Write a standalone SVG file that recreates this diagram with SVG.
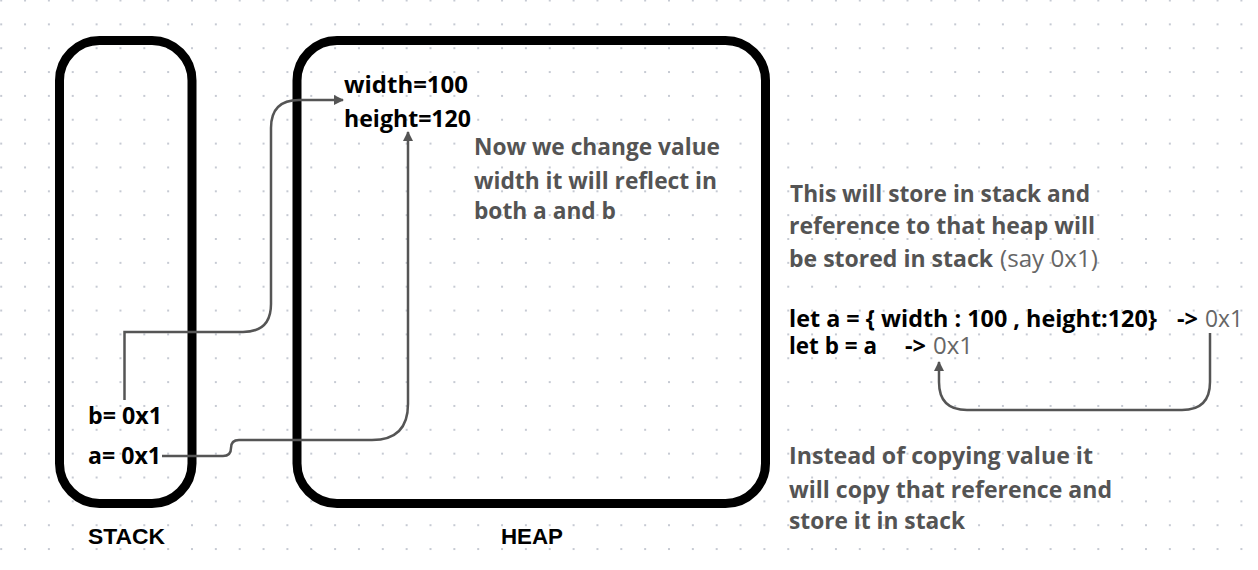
<svg xmlns="http://www.w3.org/2000/svg" width="1258" height="570" viewBox="0 0 1258 570">
<style>
.box{fill:none;stroke:#000;stroke-width:9}
.conn{fill:none;stroke:#555;stroke-width:2.5}
.t{font-family:"Open Sans",Lato,sans-serif;font-weight:700;font-size:23px}
.blk{fill:#000}
.gry{fill:#545454}
.reg{font-weight:400;fill:#666}
.lbl{font-family:"Liberation Sans",Arial,sans-serif;font-weight:700;font-size:22.5px;fill:#000}
</style>
<defs>
<pattern id="dots" patternUnits="userSpaceOnUse" x="-10.725" y="-11.425" width="23.85" height="23.85">
<rect x="10.925" y="10.925" width="2" height="2" fill="#c6cad3"/>
</pattern>
<marker id="arr" viewBox="0 0 10 10" refX="9" refY="5" markerWidth="4" markerHeight="4" orient="auto" markerUnits="strokeWidth">
<path d="M0 0 L10 5 L0 10 Z" fill="#555"/>
</marker>
</defs>
<rect width="1258" height="570" fill="#fff"/>
<rect width="1258" height="570" fill="url(#dots)"/>

<g id="stack">
<rect class="box" x="59.5" y="40.5" width="132.5" height="463" rx="40"/>
<text class="lbl" x="88" y="544" textLength="77" lengthAdjust="spacingAndGlyphs">STACK</text>
<text class="t blk" x="88" y="424" textLength="74" lengthAdjust="spacingAndGlyphs">b= 0x1</text>
<text class="t blk" x="88" y="464" textLength="73" lengthAdjust="spacingAndGlyphs">a= 0x1</text>
</g>

<g id="heap">
<rect class="box" x="297" y="40.5" width="468.5" height="463" rx="40"/>
<text class="lbl" x="501" y="544" textLength="62" lengthAdjust="spacingAndGlyphs">HEAP</text>
<text class="t blk" x="344" y="92.5" textLength="124" lengthAdjust="spacingAndGlyphs">width=100</text>
<text class="t blk" x="344" y="126.5" textLength="127" lengthAdjust="spacingAndGlyphs">height=120</text>
</g>

<g id="note-change">
<text class="t gry" x="474" y="155" textLength="246" lengthAdjust="spacingAndGlyphs">Now we change value</text>
<text class="t gry" x="474" y="188.5" textLength="243" lengthAdjust="spacingAndGlyphs">width it will reflect in</text>
<text class="t gry" x="474" y="219" textLength="142" lengthAdjust="spacingAndGlyphs">both a and b</text>
</g>

<g id="note-store">
<text class="t gry" x="790" y="201.5" textLength="300" lengthAdjust="spacingAndGlyphs">This will store in stack and</text>
<text class="t gry" x="789" y="234" textLength="306" lengthAdjust="spacingAndGlyphs">reference to that heap will</text>
<text class="t gry" x="789" y="266.5" textLength="204" lengthAdjust="spacingAndGlyphs">be stored in stack</text>
<text class="t reg" x="1000" y="266.5" textLength="98" lengthAdjust="spacingAndGlyphs">(say 0x1)</text>
</g>

<g id="code">
<text class="t blk" x="789" y="326.5" textLength="368" lengthAdjust="spacingAndGlyphs">let a = { width : 100 , height:120}</text>
<text class="t blk" x="1177" y="326.5" textLength="21" lengthAdjust="spacingAndGlyphs">-&gt;</text>
<text class="t reg" x="1205" y="326.5" textLength="38" lengthAdjust="spacingAndGlyphs">0x1</text>
<text class="t blk" x="789" y="354" textLength="88" lengthAdjust="spacingAndGlyphs">let b = a</text>
<text class="t blk" x="905" y="354" textLength="21" lengthAdjust="spacingAndGlyphs">-&gt;</text>
<text class="t reg" x="933" y="354" textLength="40" lengthAdjust="spacingAndGlyphs">0x1</text>
</g>

<g id="note-copy">
<text class="t gry" x="789" y="464" textLength="304" lengthAdjust="spacingAndGlyphs">Instead of copying value it</text>
<text class="t gry" x="789" y="497.5" textLength="323" lengthAdjust="spacingAndGlyphs">will copy that reference and</text>
<text class="t gry" x="789" y="529" textLength="176" lengthAdjust="spacingAndGlyphs">store it in stack</text>
</g>

<g id="connectors">
<path class="conn" d="M124.5 400 V332 H243 Q271 332 271 304 V128 Q271 100 299 100 H343" marker-end="url(#arr)"/>
<path class="conn" d="M162 456 H223 Q231 456 231 448 Q231 440 239 440 H372 Q408 440 408 404 V132" marker-end="url(#arr)"/>
<path class="conn" d="M1210 333 V382 Q1210 410 1182 410 H967 Q939 410 939 382 V362" marker-end="url(#arr)"/>
</g>
</svg>
